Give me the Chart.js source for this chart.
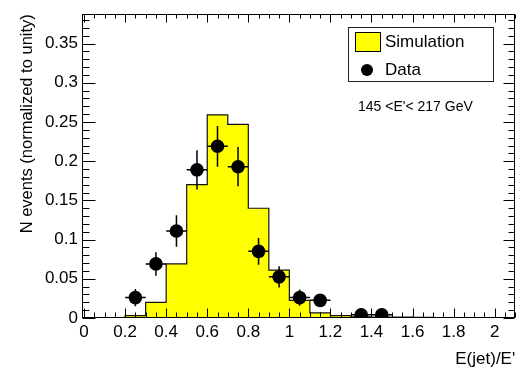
<!DOCTYPE html>
<html><head><meta charset="utf-8">
<script src="https://cdn.jsdelivr.net/npm/chart.js@4/dist/chart.umd.min.js"></script>
<style>html,body{margin:0;padding:0;background:#fff}#wrap{width:522px;height:372px;position:relative}</style>
</head><body><div id="wrap"><canvas id="c" width="522" height="372"></canvas></div>
<script>
// ---- data ----
const binLowEdges = [0.2,0.3,0.4,0.5,0.6,0.7,0.8,0.9,1.0,1.1,1.2,1.3,1.4,1.5,1.6];
const simValues   = [0.003,0.020,0.069,0.170,0.259,0.247,0.140,0.061,0.0225,0.0065,0.003,0.0015,0.001,0.001,0.0008];
const binWidth = 0.1;
const dataX    = [0.25,0.35,0.45,0.55,0.65,0.75,0.85,0.95,1.05,1.15,1.35,1.45];
const dataY    = [0.026,0.069,0.111,0.189,0.219,0.193,0.085,0.0525,0.026,0.0225,0.004,0.004];
const dataErrY = [0.011,0.015,0.020,0.025,0.026,0.025,0.017,0.0135,0.0105,0.008,0.004,0.004];
const xTickValues = [0,0.2,0.4,0.6,0.8,1,1.2,1.4,1.6,1.8,2];
const xTickLabels = ['0','0.2','0.4','0.6','0.8','1','1.2','1.4','1.6','1.8','2'];
const yTickValues = [0,0.05,0.1,0.15,0.2,0.25,0.3,0.35];
const yTickLabels = ['0','0.05','0.1','0.15','0.2','0.25','0.3','0.35'];
const legendLabels = ['Simulation','Data'];
const annotationText = "145 <E'< 217 GeV";
const xTitle = "E(jet)/E'";
const yTitle = "N events (normalized to unity)";

// histogram outline built from the bins
const simPoints = [{x: binLowEdges[0], y: 0}];
binLowEdges.forEach((e,i)=>simPoints.push({x:e, y:simValues[i]}));
simPoints.push({x: binLowEdges[binLowEdges.length-1]+binWidth, y: 0});
const dataPoints = dataX.map((x,i)=>({x:x, y:dataY[i]}));

const FONT = "'Liberation Sans', Arial, sans-serif";

const decor = {
  id:'decor',
  afterDatasetsDraw(chart){
    const ctx = chart.ctx, xs = chart.scales.x, ys = chart.scales.y;
    ctx.save();
    ctx.strokeStyle = '#000'; ctx.lineWidth = 1.5;
    dataX.forEach((x,i)=>{
      const px = xs.getPixelForValue(x), py = ys.getPixelForValue(dataY[i]);
      const x0 = xs.getPixelForValue(x-binWidth/2), x1 = xs.getPixelForValue(x+binWidth/2);
      const y0 = ys.getPixelForValue(dataY[i]-dataErrY[i]), y1 = ys.getPixelForValue(dataY[i]+dataErrY[i]);
      ctx.beginPath();
      ctx.moveTo(x0,py); ctx.lineTo(x1,py);
      ctx.moveTo(px,y0); ctx.lineTo(px,y1);
      ctx.stroke();
    });
    ctx.restore();
  },
  afterDraw(chart){
    const ctx = chart.ctx, xs = chart.scales.x, ys = chart.scales.y, a = chart.chartArea;
    ctx.save();
    ctx.strokeStyle = '#000'; ctx.lineWidth = 1;
    const L = Math.round(a.left)+0.5, R = Math.round(a.right)-0.5, T = Math.round(a.top)+0.5, B = Math.round(a.bottom)-0.5;
    ctx.beginPath();
    for(let k=0;k<=42;k++){
      const v = k*0.05; if (v > xs.max+1e-9) break;
      const px = Math.round(xs.getPixelForValue(v))+0.5;
      const maj = k%4===0;
      ctx.moveTo(px,B); ctx.lineTo(px,B-(maj?9:5));
      ctx.moveTo(px,T); ctx.lineTo(px,T+(maj?8:4));
    }
    for(let k=0;k<=40;k++){
      const v = k*0.01; if (v > ys.max+1e-9) break;
      const py = Math.round(ys.getPixelForValue(v))+0.5;
      const maj = k%5===0;
      ctx.moveTo(L,py); ctx.lineTo(L+(maj?13:7),py);
      ctx.moveTo(R,py); ctx.lineTo(R-(maj?11:6),py);
    }
    ctx.stroke();
    ctx.strokeRect(L,T,R-L,B-T);

    // legend
    ctx.strokeStyle = '#222'; ctx.lineWidth = 1;
    ctx.strokeRect(348.5,27.5,145,54);
    ctx.fillStyle = '#ffff00'; ctx.fillRect(355.5,32.5,25,19);
    ctx.strokeStyle = '#000'; ctx.strokeRect(355.5,32.5,25,19);
    ctx.fillStyle = '#000';
    ctx.beginPath(); ctx.arc(367,70,6,0,Math.PI*2); ctx.fill();
    ctx.font = '17px '+FONT; ctx.textBaseline = 'middle'; ctx.textAlign = 'left';
    ctx.fillText(legendLabels[0],385,42);
    ctx.fillText(legendLabels[1],385,70);
    ctx.font = '14px '+FONT;
    ctx.fillText(annotationText,358,107);
    ctx.restore();
  }
};

new Chart(document.getElementById('c'), {
  type:'scatter',
  data:{datasets:[
    {type:'line', label:legendLabels[0], data:simPoints, stepped:'before', fill:'origin',
     backgroundColor:'#ffff00', borderColor:'#111', borderWidth:1.2, pointRadius:0, tension:0, order:2},
    {type:'scatter', label:legendLabels[1], data:dataPoints, pointRadius:6.8, pointHoverRadius:6.8,
     backgroundColor:'#000', borderColor:'#000', borderWidth:0, order:1}
  ]},
  options:{
    responsive:false, animation:false, devicePixelRatio:1,
    layout:{padding:{top:8,right:4,left:0,bottom:0}},
    plugins:{legend:{display:false}, tooltip:{enabled:false}},
    scales:{
      x:{type:'linear', min:-0.01, max:2.1,
         afterBuildTicks:s=>{s.ticks = xTickValues.map(v=>({value:v}));},
         afterFit:s=>{s.height = 54;},
         ticks:{autoSkip:false, maxRotation:0, padding:4, color:'#000', font:{family:FONT,size:17},
                callback:(v,i)=>xTickLabels[i]},
         grid:{display:false, drawTicks:false}, border:{display:false},
         title:{display:true, text:xTitle, align:'end', color:'#000', font:{family:FONT,size:17}, padding:{top:0,bottom:2}}
      },
      y:{type:'linear', min:0, max:0.3875,
         afterBuildTicks:s=>{s.ticks = yTickValues.map(v=>({value:v}));},
         afterFit:s=>{s.width = 82;},
         ticks:{autoSkip:false, padding:4, color:'#000', font:{family:FONT,size:17},
                callback:(v,i)=>yTickLabels[i]},
         grid:{display:false, drawTicks:false}, border:{display:false},
         title:{display:true, text:yTitle, align:'end', color:'#000', font:{family:FONT,size:16.5}, padding:{top:18,bottom:0}}
      }
    }
  },
  plugins:[decor]
});
</script></body></html>
